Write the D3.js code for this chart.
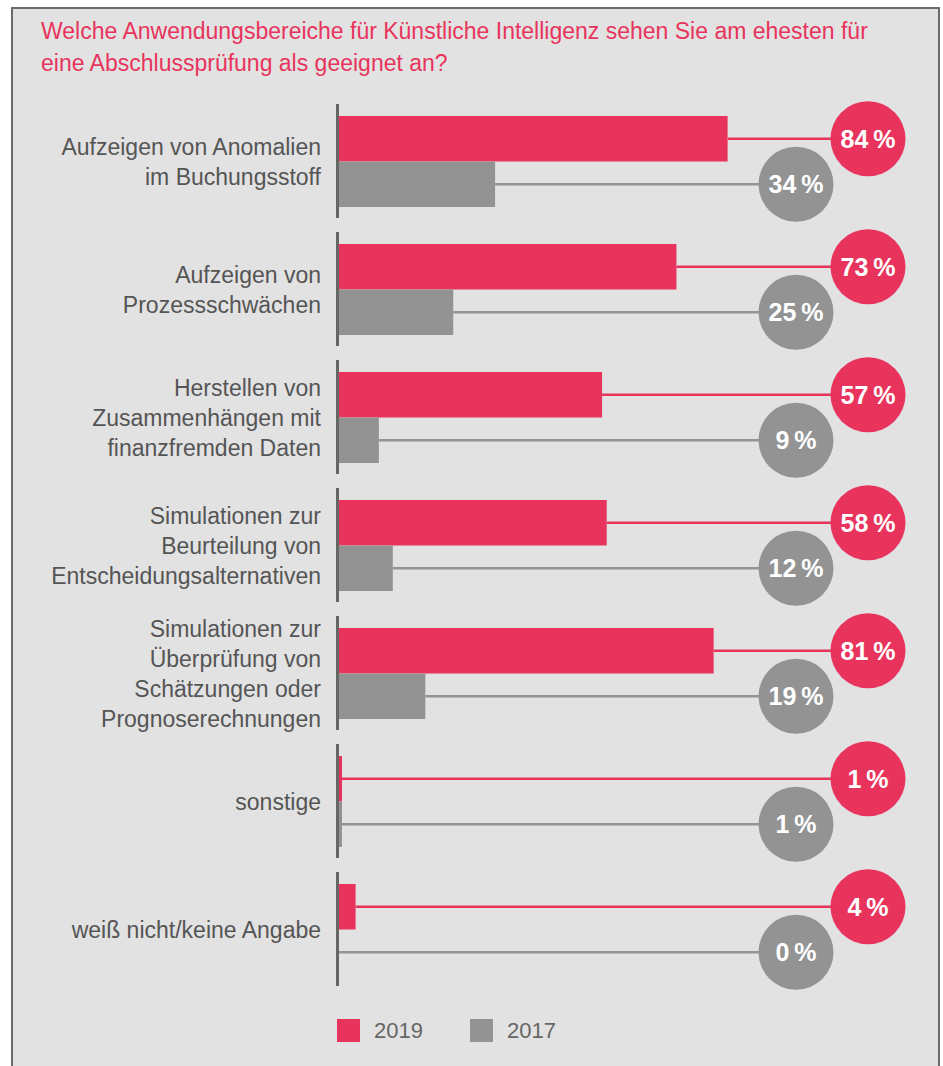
<!DOCTYPE html>
<html>
<head>
<meta charset="utf-8">
<script src="https://cdn.jsdelivr.net/npm/d3@7"></script>
<style>
  body { margin: 0; background: #fff; }
  svg { display: block; font-family: "Liberation Sans", Arial, Helvetica, sans-serif; }
</style>
</head>
<body>
<svg id="chart"></svg>
<script>
// categories, one entry per group (lines of the label)
const categories = [
    ["Aufzeigen von Anomalien", "im Buchungsstoff"],
    ["Aufzeigen von", "Prozessschwächen"],
    ["Herstellen von", "Zusammenhängen mit", "finanzfremden Daten"],
    ["Simulationen zur", "Beurteilung von", "Entscheidungsalternativen"],
    ["Simulationen zur", "Überprüfung von", "Schätzungen oder", "Prognoserechnungen"],
    ["sonstige"],
    ["weiß nicht/keine Angabe"]
];
const values2019 = [84, 73, 57, 58, 81, 1, 4];
const values2017 = [34, 25, 9, 12, 19, 1, 0];
const seriesNames = ["2019", "2017"];
const title = [
    "Welche Anwendungsbereiche für Künstliche Intelligenz sehen Sie am ehesten für",
    "eine Abschlussprüfung als geeignet an?"
];

const width = 943, height = 1066;
const pink = "#e8345c", grey = "#939393";

const svg = d3.select("#chart")
    .attr("width", width)
    .attr("height", height);

// frame
svg.append("rect")
    .attr("x", 12).attr("y", 8)
    .attr("width", 927).attr("height", 1070)
    .attr("fill", "#e2e2e2")
    .attr("stroke", "#6b6b6b")
    .attr("stroke-width", 2);

svg.append("g").selectAll("text")
    .data(title)
    .join("text")
    .attr("x", 41)
    .attr("y", (d, i) => 39 + i * 32)
    .attr("fill", pink)
    .attr("font-size", 23)
    .text(d => d);

const idx = d3.range(categories.length);

const y = d3.scaleBand()
    .domain(idx)
    .range([104, 104 + 128 * categories.length]);

const ySub = d3.scaleBand()
    .domain(seriesNames)
    .range([12, 103]);

const x = d3.scaleLinear()
    .domain([0, 100])
    .range([337, 802]);

const circleX = { "2019": 868, "2017": 796 };
const colors = d3.scaleOrdinal().domain(seriesNames).range([pink, grey]);

const rows = [];
idx.forEach(i => {
    rows.push({ i: i, s: "2019", v: values2019[i] });
    rows.push({ i: i, s: "2017", v: values2017[i] });
});

const g = svg.append("g");

// connector lines
g.selectAll("line.conn")
    .data(rows)
    .join("line")
    .attr("class", "conn")
    .attr("x1", d => x(d.v))
    .attr("x2", d => circleX[d.s])
    .attr("y1", d => y(d.i) + ySub(d.s) + ySub.bandwidth() / 2)
    .attr("y2", d => y(d.i) + ySub(d.s) + ySub.bandwidth() / 2)
    .attr("stroke", d => colors(d.s))
    .attr("stroke-width", 2.5);

// bars
g.selectAll("rect.bar")
    .data(rows)
    .join("rect")
    .attr("class", "bar")
    .attr("x", x(0))
    .attr("y", d => y(d.i) + ySub(d.s))
    .attr("width", d => Math.max(x(d.v) - x(0), d.v > 0 ? 5 : 0))
    .attr("height", ySub.bandwidth())
    .attr("fill", d => colors(d.s));

// axis segments per group
g.selectAll("line.axis")
    .data(idx)
    .join("line")
    .attr("class", "axis")
    .attr("x1", 337.5).attr("x2", 337.5)
    .attr("y1", d => y(d))
    .attr("y2", d => y(d) + 114)
    .attr("stroke", "#666")
    .attr("stroke-width", 3);

// circles with values
const bubbles = g.selectAll("g.bubble")
    .data(rows.slice().sort((a, b) => a.s === "2017" ? -1 : 1))
    .join("g")
    .attr("class", "bubble")
    .attr("transform", d => "translate(" + circleX[d.s] + "," + (y(d.i) + ySub(d.s) + ySub.bandwidth() / 2) + ")");

bubbles.append("circle")
    .attr("r", 37.5)
    .attr("fill", d => colors(d.s));

bubbles.append("text")
    .attr("text-anchor", "middle")
    .attr("dy", "0.36em")
    .attr("fill", "#fff")
    .attr("font-weight", "bold")
    .attr("font-size", 25)
    .text(d => d.v + "\u2009%");

// category labels
const labels = svg.append("g")
    .attr("font-size", 23)
    .attr("fill", "#555")
    .attr("text-anchor", "end");

idx.forEach(i => {
    const lines = categories[i];
    const mid = y(i) + 58;
    labels.append("text")
        .selectAll("tspan")
        .data(lines)
        .join("tspan")
        .attr("x", 321)
        .attr("y", (d, k) => mid + (k - (lines.length - 1) / 2) * 30)
        .attr("dy", "0.35em")
        .text(d => d);
});

// legend
const legend = svg.append("g")
    .selectAll("g")
    .data(seriesNames)
    .join("g")
    .attr("transform", (d, i) => "translate(" + (337 + i * 133) + ",1019)");

legend.append("rect")
    .attr("width", 23).attr("height", 23)
    .attr("fill", d => colors(d));

legend.append("text")
    .attr("x", 37)
    .attr("y", 11.5)
    .attr("dy", "0.36em")
    .attr("font-size", 22)
    .attr("fill", "#666")
    .text(d => d);
</script>
</body>
</html>
